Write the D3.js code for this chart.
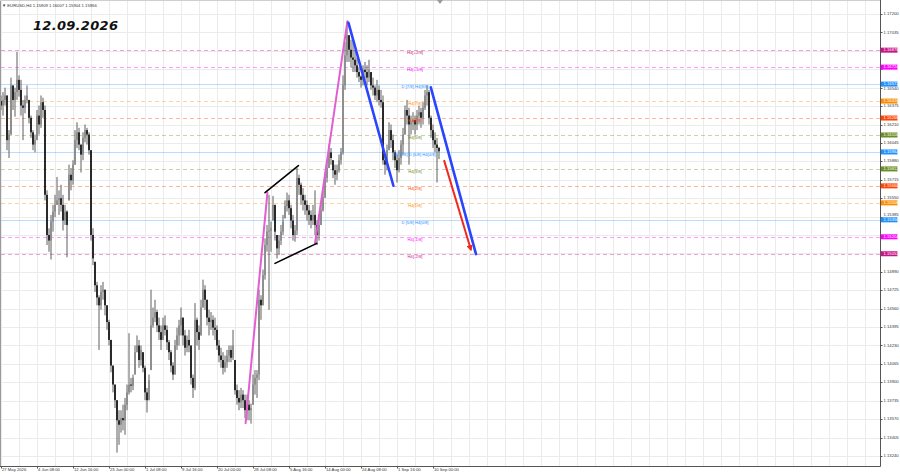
<!DOCTYPE html>
<html><head><meta charset="utf-8">
<script src="https://cdn.jsdelivr.net/npm/d3@7"></script>
<style>body{margin:0;background:#fff}svg{display:block}</style>
</head><body><svg id="c" width="900" height="474"></svg>
<script>
// ---------- DATA ----------
const highs = [
1.1647,1.1650,1.1654,1.1647,1.1616,1.1663,1.1656,1.1654,1.1686,1.1665,
1.1661,1.1643,1.1647,1.1656,1.1643,1.1629,1.1616,1.1612,1.1634,1.1638,
1.1647,1.1645,1.1638,1.1562,1.1528,1.1540,1.1549,1.1558,1.1574,1.1562,
1.1567,1.1558,1.1549,1.1544,1.1585,1.1582,1.1589,1.1616,1.1623,1.1618,
1.1603,1.1614,1.1621,1.1618,1.1614,1.1598,1.1528,1.1498,1.1480,1.1468,
1.1477,1.1480,1.1473,1.1459,1.1446,1.1428,1.1405,1.1388,1.1374,1.1365,
1.1365,1.1370,1.1376,1.1388,1.1434,1.1394,1.1397,1.1423,1.1432,1.1428,
1.1423,1.1417,1.1405,1.1385,1.1397,1.1473,1.1457,1.1464,1.1455,1.1448,
1.1441,1.1448,1.1450,1.1441,1.1428,1.1419,1.1408,1.1428,1.1439,1.1446,
1.1457,1.1448,1.1437,1.1432,1.1437,1.1423,1.1397,1.1461,1.1448,1.1441,
1.1464,1.1482,1.1477,1.1464,1.1455,1.1453,1.1450,1.1448,1.1441,1.1428,
1.1421,1.1417,1.1414,1.1419,1.1423,1.1423,1.1437,1.1410,1.1388,1.1383,
1.1385,1.1383,1.1379,1.1379,1.1374,1.1371,1.1397,1.1401,1.1401,1.1473,
1.1468,1.1491,1.1519,1.1531,1.1558,1.1534,1.1557,1.1549,1.1522,1.1522,
1.1531,1.1540,1.1553,1.1560,1.1558,1.1549,1.1540,1.1531,1.1582,1.1576,
1.1569,1.1564,1.1558,1.1553,1.1549,1.1544,1.1549,1.1562,1.1535,1.1540,
1.1551,1.1562,1.1578,1.1589,1.1603,1.1600,1.1589,1.1585,1.1585,1.1594,
1.1600,1.1665,1.1695,1.1713,1.1701,1.1697,1.1695,1.1688,1.1681,1.1672,
1.1665,1.1674,1.1677,1.1674,1.1679,1.1668,1.1663,1.1656,1.1661,1.1656,
1.1652,1.1647,1.1594,1.1603,1.1623,1.1621,1.1612,1.1598,1.1594,1.1598,
1.1607,1.1618,1.1638,1.1643,1.1636,1.1629,1.1632,1.1629,1.1634,1.1638,
1.1636,1.1641,1.1652,1.1656,1.1652,1.1629,1.1621,1.1614,1.1609,1.1601];
const lows = [
1.1634,1.1629,1.1638,1.1598,1.1591,1.1612,1.1634,1.1628,1.1643,1.1646,
1.1629,1.1607,1.1631,1.1640,1.1622,1.1609,1.1598,1.1596,1.1607,1.1612,
1.1618,1.1627,1.1553,1.1513,1.1507,1.1500,1.1525,1.1538,1.1549,1.1540,
1.1543,1.1526,1.1531,1.1502,1.1553,1.1562,1.1567,1.1585,1.1600,1.1598,
1.1578,1.1589,1.1605,1.1603,1.1594,1.1517,1.1495,1.1471,1.1459,1.1419,
1.1455,1.1464,1.1450,1.1437,1.1423,1.1399,1.1381,1.1367,1.1327,1.1334,
1.1345,1.1347,1.1343,1.1365,1.1379,1.1381,1.1383,1.1397,1.1417,1.1403,
1.1405,1.1399,1.1374,1.1363,1.1374,1.1401,1.1439,1.1444,1.1435,1.1428,
1.1419,1.1428,1.1432,1.1419,1.1410,1.1399,1.1392,1.1397,1.1419,1.1423,
1.1432,1.1423,1.1414,1.1417,1.1417,1.1388,1.1376,1.1383,1.1423,1.1419,
1.1432,1.1457,1.1455,1.1441,1.1432,1.1437,1.1432,1.1428,1.1419,1.1408,
1.1403,1.1397,1.1399,1.1403,1.1408,1.1408,1.1410,1.1379,1.1370,1.1365,
1.1367,1.1367,1.1358,1.1356,1.1356,1.1353,1.1370,1.1379,1.1376,1.1392,
1.1446,1.1459,1.1482,1.1507,1.1455,1.1507,1.1535,1.1517,1.1501,1.1504,
1.1513,1.1522,1.1537,1.1543,1.1540,1.1528,1.1517,1.1516,1.1522,1.1558,
1.1549,1.1544,1.1540,1.1535,1.1531,1.1528,1.1531,1.1522,1.1513,1.1517,
1.1531,1.1543,1.1555,1.1569,1.1582,1.1585,1.1573,1.1567,1.1571,1.1578,
1.1585,1.1594,1.1652,1.1677,1.1677,1.1672,1.1668,1.1668,1.1663,1.1659,
1.1654,1.1656,1.1661,1.1656,1.1659,1.1652,1.1647,1.1643,1.1641,1.1638,
1.1636,1.1585,1.1576,1.1580,1.1598,1.1600,1.1589,1.1582,1.1569,1.1578,
1.1585,1.1594,1.1612,1.1621,1.1585,1.1612,1.1616,1.1612,1.1616,1.1621,
1.1618,1.1621,1.1634,1.1638,1.1621,1.1609,1.1600,1.1596,1.1569,1.1590];
const closes = [
1.1638,1.1643,1.1647,1.1607,1.1612,1.1656,1.1643,1.1650,1.1661,1.1652,
1.1638,1.1636,1.1643,1.1647,1.1627,1.1614,1.1603,1.1607,1.1629,1.1621,
1.1641,1.1634,1.1558,1.1522,1.1517,1.1534,1.1543,1.1549,1.1553,1.1555,
1.1549,1.1535,1.1543,1.1531,1.1576,1.1571,1.1585,1.1607,1.1614,1.1603,
1.1594,1.1609,1.1616,1.1612,1.1598,1.1522,1.1501,1.1477,1.1466,1.1459,
1.1471,1.1473,1.1459,1.1444,1.1428,1.1405,1.1388,1.1374,1.1356,1.1352,
1.1358,1.1356,1.1370,1.1381,1.1388,1.1387,1.1394,1.1417,1.1423,1.1410,
1.1419,1.1403,1.1381,1.1374,1.1392,1.1441,1.1448,1.1453,1.1441,1.1435,
1.1428,1.1441,1.1437,1.1426,1.1417,1.1405,1.1397,1.1423,1.1432,1.1441,
1.1448,1.1432,1.1421,1.1428,1.1423,1.1394,1.1385,1.1446,1.1435,1.1428,
1.1457,1.1473,1.1464,1.1448,1.1444,1.1446,1.1439,1.1437,1.1423,1.1414,
1.1410,1.1403,1.1408,1.1414,1.1419,1.1412,1.1423,1.1383,1.1376,1.1372,
1.1379,1.1374,1.1365,1.1370,1.1365,1.1367,1.1388,1.1394,1.1397,1.1464,
1.1459,1.1486,1.1513,1.1525,1.1526,1.1528,1.1549,1.1525,1.1510,1.1517,
1.1525,1.1534,1.1548,1.1553,1.1546,1.1535,1.1522,1.1526,1.1573,1.1567,
1.1558,1.1553,1.1549,1.1544,1.1540,1.1535,1.1540,1.1531,1.1522,1.1531,
1.1544,1.1556,1.1573,1.1582,1.1596,1.1591,1.1580,1.1576,1.1580,1.1589,
1.1596,1.1656,1.1683,1.1701,1.1688,1.1681,1.1679,1.1674,1.1668,1.1664,
1.1661,1.1670,1.1668,1.1663,1.1670,1.1656,1.1654,1.1647,1.1652,1.1643,
1.1641,1.1589,1.1585,1.1598,1.1616,1.1607,1.1596,1.1589,1.1580,1.1591,
1.1603,1.1612,1.1634,1.1629,1.1621,1.1623,1.1625,1.1621,1.1629,1.1632,
1.1627,1.1636,1.1647,1.1650,1.1627,1.1616,1.1607,1.1603,1.1600,1.1597];
const firstOpen = 1.1642;

const priceTicks = [1.17200,1.17035,1.16870,1.16705,1.16540,1.16375,1.16210,1.16045,1.15880,1.15715,
  1.15550,1.15385,1.15220,1.15055,1.14890,1.14725,1.14560,1.14395,1.14230,1.14065,1.13900,1.13735,
  1.13570,1.13405,1.13240];
const timeLabels = ["27 May 2026","4 Jun 08:00","12 Jun 16:00","23 Jun 00:00","1 Jul 08:00","9 Jul 16:00",
  "20 Jul 00:00","28 Jul 08:00","5 Aug 16:00","14 Aug 00:00","24 Aug 08:00","1 Sep 16:00","10 Sep 00:00"];
const timeLabelIdx = [0,18,36,54,72,90,108,126,144,162,180,198,216];

const levelPrices = [1.16876,1.16724,1.16572,1.16420,1.16268,1.16116,1.15964,1.15812,1.15660,1.15508,1.15356,1.15204,1.15052];
const levelNames = ["H4[+2/8]","H4[+1/8]","D [7/8] H4[8/8]","H4[7/8]","H4[6/8]","H4[5/8]","W [3/8] D [6/8] H4[4/8]",
  "H4[3/8]","H4[2/8]","H4[1/8]","D [5/8] H4[0/8]","H4[-1/8]","H4[-2/8]"];
const levelColors = ["#c71585","#ff00ff","#1e90ff","#ff8c00","#ff4500","#6b8e23","#1e90ff",
  "#6b8e23","#ff4500","#ff8c00","#1e90ff","#ff00ff","#c71585"];

// trend lines: [index1, price1, index2, price2]
const pinkLegs = [[122.3,1.13535,133.2,1.15598],[157.0,1.15145,173.2,1.17136]];
const wedgeLines = [[132.0,1.15599,148.7,1.15841],[137.0,1.14966,157.9,1.15145]];
const blueLegs = [[173.7,1.17122,196.2,1.15661],[214.9,1.16543,237.5,1.15049]];
const redArrow = [221.5,1.15891,235.0,1.15085];

const header = "EURUSD,H4  1.15909 1.16007 1.15904 1.15966";
const dateTitle = "12.09.2026";

// ---------- LAYOUT ----------
const svg = d3.select("#c");
const plotR = 880.5, plotB = 466.5;
const x = d3.scaleLinear().domain([0, highs.length - 1]).range([1, 439]);
const y = d3.scaleLinear().domain([1.13240, 1.17200]).range([456, 14]);
const font = "'Liberation Sans', Arial, sans-serif";
const FS = 4.2, BOXH = 5;

// grid
const gGrid = svg.append("g");
const vIdx = d3.range(0, 440, 9);
gGrid.selectAll("line.v").data(vIdx).join("line")
  .attr("x1", d => Math.round(x(d)) + 0.5).attr("x2", d => Math.round(x(d)) + 0.5)
  .attr("y1", 1).attr("y2", plotB).attr("stroke", "#ebebeb").attr("stroke-width", 1);
gGrid.selectAll("line.h").data(priceTicks).join("line")
  .attr("x1", 1).attr("x2", plotR)
  .attr("y1", d => Math.round(y(d)) + 0.5).attr("y2", d => Math.round(y(d)) + 0.5)
  .attr("stroke", "#ebebeb").attr("stroke-width", 1);

// level lines
const isBlue = i => levelColors[i] === "#1e90ff";
svg.append("g").selectAll("line").data(levelPrices).join("line")
  .attr("x1", 1).attr("x2", plotR)
  .attr("y1", d => Math.round(y(d)) + 0.5).attr("y2", d => Math.round(y(d)) + 0.5)
  .attr("stroke", (d, i) => levelColors[i])
  .attr("stroke-opacity", (d, i) => isBlue(i) ? 0.3 : 0.38)
  .attr("stroke-dasharray", (d, i) => isBlue(i) ? null : "4,3")
  .attr("stroke-width", 1);

// candles
const opens = closes.map((c, i) => i === 0 ? firstOpen : closes[i - 1]);
const gC = svg.append("g");
highs.forEach((h, i) => {
  const cx = x(i);
  const o = Math.min(h, Math.max(lows[i], opens[i]));
  const c = closes[i];
  gC.append("line").attr("x1", cx).attr("x2", cx)
    .attr("y1", y(h)).attr("y2", y(lows[i]))
    .attr("stroke", "#5e5e5e").attr("stroke-width", 1);
  const top = y(Math.max(o, c)), bot = y(Math.min(o, c));
  gC.append("rect").attr("x", cx - 0.85).attr("width", 1.7)
    .attr("y", top).attr("height", Math.max(0.8, bot - top))
    .attr("fill", c >= o ? "#8a8a8a" : "#151515");
});

// level labels in chart
const labelIdx = 207;
svg.append("g").selectAll("text").data(levelPrices).join("text")
  .attr("x", x(labelIdx)).attr("y", d => y(d) + 2.8)
  .attr("text-anchor", "middle").attr("dominant-baseline", "middle")
  .attr("font-family", font).attr("font-size", FS)
  .attr("fill", (d, i) => levelColors[i]).text((d, i) => levelNames[i]);

// trend lines
const seg = (g, d, color, w) => g.append("line")
  .attr("x1", x(d[0])).attr("y1", y(d[1])).attr("x2", x(d[2])).attr("y2", y(d[3]))
  .attr("stroke", color).attr("stroke-width", w).attr("stroke-linecap", "round");
const gT = svg.append("g");
pinkLegs.forEach(d => seg(gT, d, "#e15fd0", 2));
wedgeLines.forEach(d => seg(gT, d, "#000", 1.6));
blueLegs.forEach(d => seg(gT, d, "#2a45ff", 2.6));
svg.append("defs").append("marker").attr("id", "ah").attr("viewBox", "0 0 10 10")
  .attr("refX", 8).attr("refY", 5).attr("markerWidth", 3.2).attr("markerHeight", 3.2)
  .attr("orient", "auto").append("path").attr("d", "M0,0L10,5L0,10z").attr("fill", "#f02a1e");
seg(gT, redArrow, "#f02a1e", 2).attr("marker-end", "url(#ah)").attr("stroke-linecap", "butt");

// frame & axes
svg.append("line").attr("x1", 0.5).attr("x2", 0.5).attr("y1", 0).attr("y2", plotB).attr("stroke", "#9a9a9a");
svg.append("line").attr("x1", 0).attr("x2", plotR).attr("y1", 0.5).attr("y2", 0.5).attr("stroke", "#cfcfcf");
svg.append("line").attr("x1", plotR).attr("x2", plotR).attr("y1", 0).attr("y2", plotB).attr("stroke", "#555");
svg.append("line").attr("x1", 0).attr("x2", plotR).attr("y1", plotB).attr("y2", plotB).attr("stroke", "#555");

// right axis labels (hidden under a level box when too close, otherwise pushed clear of it)
const minGap = BOXH / 2 + FS * 0.55;
const tickPos = priceTicks.map(p => {
  let yy = y(p);
  for (const lp of levelPrices) {
    const ly = y(lp), d = yy - ly;
    if (Math.abs(d) < 3) return null;
    if (Math.abs(d) < minGap) yy = ly + Math.sign(d) * minGap;
  }
  return yy;
});
const gY = svg.append("g");
priceTicks.forEach((p, i) => {
  const yy = Math.round(y(p)) + 0.5;
  gY.append("line").attr("x1", plotR).attr("x2", plotR + 2).attr("y1", yy).attr("y2", yy).attr("stroke", "#555");
  if (tickPos[i] === null) return;
  gY.append("text").attr("x", 883.5).attr("y", tickPos[i]).attr("dominant-baseline", "middle")
    .attr("font-family", font).attr("font-size", FS).attr("fill", "#333")
    .text(p.toFixed(5));
});
// level price boxes
const gB = svg.append("g");
levelPrices.forEach((p, i) => {
  const yy = y(p);
  gB.append("rect").attr("x", 881).attr("y", yy - BOXH / 2).attr("width", 16.5).attr("height", BOXH)
    .attr("fill", levelColors[i]);
  gB.append("text").attr("x", 883.5).attr("y", yy).attr("dominant-baseline", "middle")
    .attr("font-family", font).attr("font-size", FS).attr("fill", "#fff").text(p.toFixed(5));
});

// bottom axis labels
const gX = svg.append("g");
timeLabelIdx.forEach((ix, k) => {
  const xx = x(ix);
  gX.append("line").attr("x1", Math.round(xx) + 0.5).attr("x2", Math.round(xx) + 0.5)
    .attr("y1", plotB).attr("y2", plotB + 2).attr("stroke", "#555");
  gX.append("text").attr("x", xx + 1).attr("y", 470.3).attr("dominant-baseline", "middle")
    .attr("font-family", font).attr("font-size", FS).attr("fill", "#333").text(timeLabels[k]);
});

// header and title
svg.append("text").attr("x", 2).attr("y", 5.5).attr("dominant-baseline", "middle")
  .attr("font-family", font).attr("font-size", FS).attr("fill", "#333").text("\u25BC " + header);
svg.append("text").attr("x", 33).attr("y", 29.5)
  .attr("font-family", "'DejaVu Sans', sans-serif").attr("font-size", 13).attr("font-weight", "bold")
  .attr("font-style", "italic").attr("fill", "#111").attr("letter-spacing", 0.3).text(dateTitle);
// shift marker
const sx = x(219.5);
svg.append("path").attr("d", `M${sx - 3},0L${sx + 3},0L${sx},4Z`).attr("fill", "#9a9a9a");
</script></body></html>
